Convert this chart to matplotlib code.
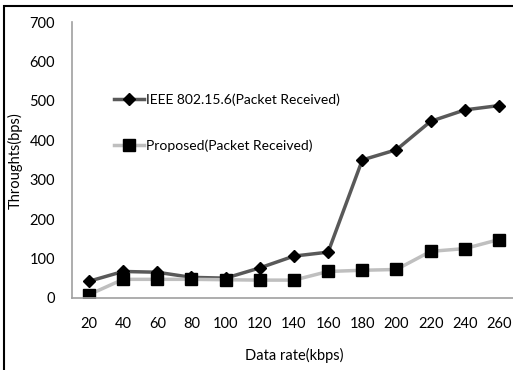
import matplotlib
matplotlib.use("Agg")
import matplotlib.pyplot as plt
from matplotlib.patches import Rectangle

# data
rates = ["20", "40", "60", "80", "100", "120", "140", "160", "180", "200", "220", "240", "260"]
ieee = [42, 67, 65, 52, 50, 76, 106, 116, 350, 376, 448, 477, 488]
proposed = [8, 47, 47, 47, 46, 45, 45, 67, 70, 72, 118, 125, 148]
yticks = [0, 100, 200, 300, 400, 500, 600, 700]

plt.rcParams['font.family'] = ['Lato', 'DejaVu Sans']

fig = plt.figure(figsize=(5.13, 3.70), dpi=100)
ax = fig.add_axes([0.140, 0.195, 0.866, 0.7454])

x = list(range(len(rates)))
ax.plot(x, ieee, color='#595959', lw=2.5, marker='D', ms=6, mfc='black', mec='black',
        label='IEEE 802.15.6(Packet Received)')
ax.plot(x, proposed, color='#bfbfbf', lw=2.5, marker='s', ms=8, mfc='black', mec='black',
        label='Proposed(Packet Received)')

ax.set_xlim(-0.5, 12.5)
ax.set_ylim(0, 700)
ax.set_xticks(x)
ax.set_xticklabels(rates)
ax.set_yticks(yticks)
ax.tick_params(length=0, labelsize=10.5, colors='black', pad=14)
ax.tick_params(axis='y', pad=12)
for s in ['top', 'right']:
    ax.spines[s].set_visible(False)
for s in ['left', 'bottom']:
    ax.spines[s].set_color('#a0a0a0')
    ax.spines[s].set_linewidth(1.2)

ax.set_xlabel('Data rate(kbps)', fontsize=10.5, labelpad=12)
ax.set_ylabel('Throughts(bps)', fontsize=10.5)
ax.yaxis.set_label_coords(-0.11, 0.496)

ax.legend(loc='upper left', bbox_to_anchor=(0.082, 0.763), frameon=False, fontsize=10,
          handlelength=2.2, labelspacing=2.45, handletextpad=0.1, borderaxespad=0)

fig.patches.append(Rectangle((4 / 513, -0.01), 1.0, 1 - 6 / 370 + 0.01, transform=fig.transFigure,
                             fill=False, edgecolor='black', lw=1.5))

fig.savefig('out.png', dpi=100)
